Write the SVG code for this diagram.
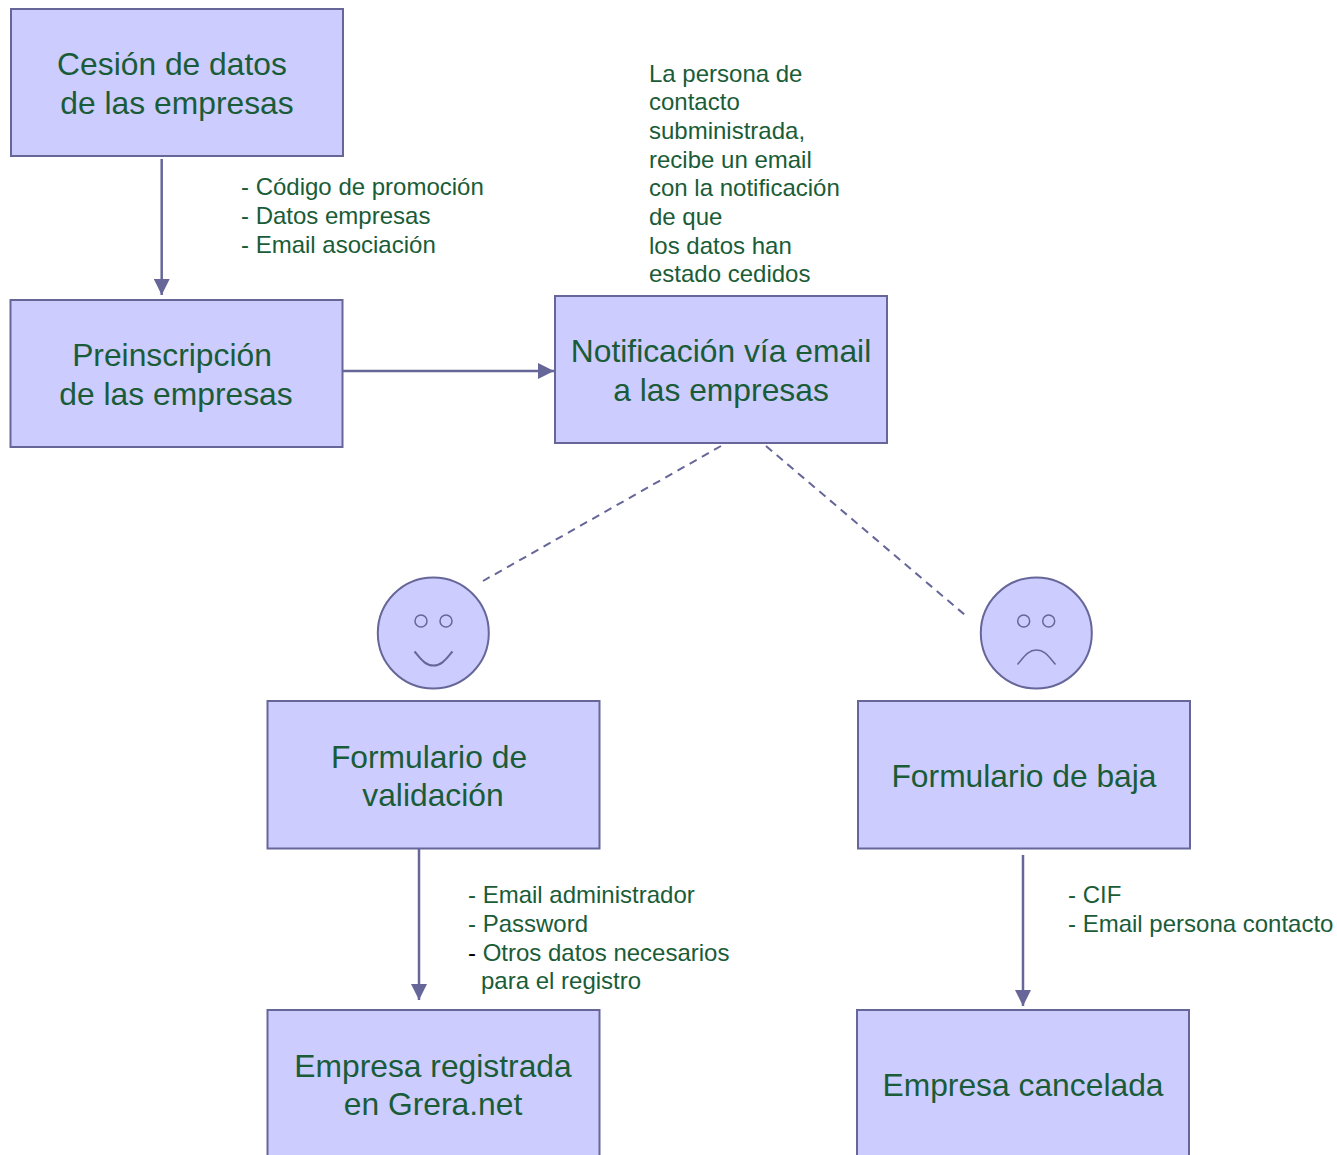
<svg xmlns="http://www.w3.org/2000/svg" width="1337" height="1155" viewBox="0 0 1337 1155">
<style>
.b{fill:#ccf;stroke:#669;stroke-width:2}
.c{fill:none;stroke:#669;stroke-width:2.500}
.d{fill:none;stroke:#669;stroke-width:2;stroke-dasharray:8 6}
.f{fill:none;stroke:#669;stroke-width:1.500}
.t{font-family:"Liberation Sans",Arial,sans-serif;font-size:31.800px;fill:#1a5c38;text-anchor:middle}
.s{font-family:"Liberation Sans",Arial,sans-serif;font-size:24px;fill:#1a5c38}
</style>
<defs><marker id="a" markerWidth="16" markerHeight="16" refX="16" refY="8" orient="auto" markerUnits="userSpaceOnUse"><path d="M0 0L16 8L0 16z" fill="#669"/></marker></defs>
<rect width="1337" height="1155" fill="#fff"/>
<g id="connectors">
<path class="c" d="M161.700 159V295" marker-end="url(#a)"/>
<path class="c" d="M343 371H554" marker-end="url(#a)"/>
<path class="d" d="M721 446L483 581"/>
<path class="d" d="M766 446L965 615"/>
<path class="c" d="M419 849V1000" marker-end="url(#a)"/>
<path class="c" d="M1023 855V1006" marker-end="url(#a)"/>
</g>
<g id="n1"><rect class="b" x="11" y="9" width="332" height="147"/><text class="t" x="172" y="75">Cesión de datos</text><text class="t" x="177" y="114">de las empresas</text></g>
<g id="n2"><rect class="b" x="10.500" y="300" width="332" height="147"/><text class="t" x="172" y="366">Preinscripción</text><text class="t" x="176" y="405">de las empresas</text></g>
<g id="n3"><rect class="b" x="555" y="296" width="332" height="147"/><text class="t" x="721" y="362">Notificación vía email</text><text class="t" x="721" y="401">a las empresas</text></g>
<g id="n4"><rect class="b" x="267.500" y="701" width="332" height="147.500"/><text class="t" x="429" y="768">Formulario de</text><text class="t" x="433" y="806">validación</text></g>
<g id="n5"><rect class="b" x="858" y="701" width="332" height="147.500"/><text class="t" x="1024" y="787">Formulario de baja</text></g>
<g id="n6"><rect class="b" x="267.500" y="1010" width="332" height="147"/><text class="t" x="433" y="1077">Empresa registrada</text><text class="t" x="433" y="1115">en Grera.net</text></g>
<g id="n7"><rect class="b" x="857" y="1010" width="332" height="147"/><text class="t" x="1023" y="1096">Empresa cancelada</text></g>
<g id="happy"><circle class="b" cx="433.300" cy="633" r="55.500"/><circle class="f" cx="421" cy="621" r="6"/><circle class="f" cx="446" cy="621" r="6"/><path class="f" d="M414.500 651.500C421 659 425 665.500 433.500 665.500C442 665.500 446 659 452.500 651.500" style="stroke-width:2"/></g>
<g id="sad"><circle class="b" cx="1036.300" cy="633" r="55.500"/><circle class="f" cx="1023.700" cy="621" r="6"/><circle class="f" cx="1048.700" cy="621" r="6"/><path class="f" d="M1017.500 664.500C1024 657 1028 650 1036.500 650C1045 650 1049 657 1055.500 664.500"/></g>
<g id="labels">
<text class="s" x="241" y="195">- Código de promoción</text>
<text class="s" x="241" y="224">- Datos empresas</text>
<text class="s" x="241" y="253">- Email asociación</text>
<text class="s" x="649" y="82">La persona de</text>
<text class="s" x="649" y="110">contacto</text>
<text class="s" x="649" y="139">subministrada,</text>
<text class="s" x="649" y="168">recibe un email</text>
<text class="s" x="649" y="196">con la notificación</text>
<text class="s" x="649" y="225">de que</text>
<text class="s" x="649" y="254">los datos han</text>
<text class="s" x="649" y="282">estado cedidos</text>
<text class="s" x="468" y="903">- Email administrador</text>
<text class="s" x="468" y="932">- Password</text>
<text class="s" x="468" y="961"><tspan fill="#000">-</tspan> Otros datos necesarios</text>
<text class="s" x="481" y="989">para el registro</text>
<text class="s" x="1068" y="903">- CIF</text>
<text class="s" x="1068" y="932">- Email persona contacto</text>
</g>
</svg>
